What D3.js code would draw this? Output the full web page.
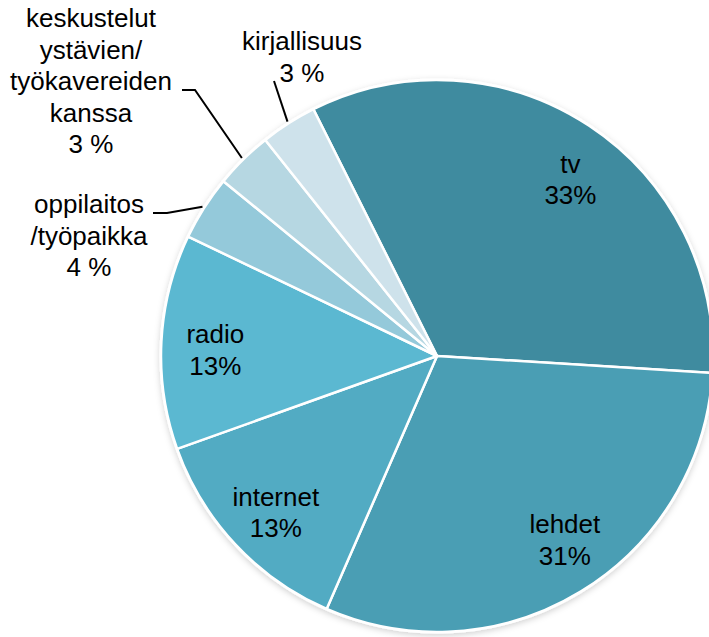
<!DOCTYPE html>
<html>
<head>
<meta charset="utf-8">
<script src="https://cdn.jsdelivr.net/npm/d3@7"></script>
<style>
  body { margin: 0; background: #fff; }
  svg text { font-family: "Liberation Sans", Arial, sans-serif; font-size: 26px; fill: #000; }
</style>
</head>
<body>
<div id="chart"></div>
<script>
// Data (clockwise from the tv slice)
// ==============================
var categories = ["tv", "lehdet", "internet", "radio", "oppilaitos/työpaikka", "keskustelut ystävien/työkavereiden kanssa", "kirjallisuus"];
var shares = [33.4, 30.6, 13.0, 12.6, 3.8, 3.4, 3.3];
var labelLines = [
  ["tv", "33%"],
  ["lehdet", "31%"],
  ["internet", "13%"],
  ["radio", "13%"],
  ["oppilaitos", "/työpaikka", "4 %"],
  ["keskustelut", "ystävien/", "työkavereiden", "kanssa", "3 %"],
  ["kirjallisuus", "3 %"]
];
var colors = ["#3f8b9f", "#4a9eb4", "#52abc3", "#5bb8d1", "#94c9da", "#b6d7e2", "#cee2eb"];

// Layout
// ==============================
var svgWidth = 709, svgHeight = 637;
var cx = 437, cy = 356, radius = 276;
var startAngle = -26.6 * Math.PI / 180;
var lineHeight = 31.5;

// small nudges for the labels inside the slices (Excel moves them a bit)
var nudge = { 0: [11, 9], 1: [12, -5], 2: [1, 5], 3: [0, 6] };

// labels that sit outside the pie: text anchor + leader line end
var outside = {
  4: { x: 89,  y: 213, end: [153, 213], elbow: [167, 213] },
  5: { x: 91,  y: 27,  end: [182, 90],  elbow: [195, 90] },
  6: { x: 302, y: 50,  end: [274, 81],  elbow: null }
};

var svg = d3.select("#chart").append("svg")
  .attr("width", svgWidth)
  .attr("height", svgHeight);

var defs = svg.append("defs");
var shadow = defs.append("filter").attr("id", "shadow")
  .attr("x", "-10%").attr("y", "-10%").attr("width", "120%").attr("height", "120%");
shadow.append("feDropShadow")
  .attr("dx", 0).attr("dy", 2).attr("stdDeviation", 3)
  .attr("flood-color", "#000").attr("flood-opacity", 0.18);

var g = svg.append("g").attr("transform", `translate(${cx}, ${cy})`);

var pie = d3.pie().sort(null)
  .startAngle(startAngle)
  .endAngle(startAngle + 2 * Math.PI);
var arcs = pie(shares);

var arc = d3.arc().innerRadius(0).outerRadius(radius);
var labelArc = d3.arc().innerRadius(222).outerRadius(222);
var edgeArc = d3.arc().innerRadius(radius + 2).outerRadius(radius + 2);

// outline / shadow disk
g.append("circle")
  .attr("r", radius + 1.5)
  .attr("fill", "#fff")
  .attr("filter", "url(#shadow)");

g.selectAll("path.slice")
  .data(arcs)
  .join("path")
  .attr("class", "slice")
  .attr("d", arc)
  .attr("fill", (d, i) => colors[i])
  .attr("stroke", "#fff")
  .attr("stroke-width", 2.5)
  .attr("stroke-linejoin", "round");

// inside labels
arcs.forEach(function(d, i) {
  if (outside[i]) return;
  var c = labelArc.centroid(d);
  var n = nudge[i] || [0, 0];
  var x = c[0] + n[0];
  var t = g.append("text")
    .attr("text-anchor", "middle")
    .attr("x", x)
    .attr("y", c[1] - 7 + n[1]);
  labelLines[i].forEach(function(line, k) {
    t.append("tspan")
      .attr("x", x)
      .attr("dy", k === 0 ? 0 : lineHeight)
      .text(line);
  });
});

// outside labels with leader lines
arcs.forEach(function(d, i) {
  var o = outside[i];
  if (!o) return;
  var p = edgeArc.centroid(d);
  var pts = [o.end];
  if (o.elbow) pts.push(o.elbow);
  pts.push([p[0] + cx, p[1] + cy]);
  svg.append("path")
    .attr("d", d3.line()(pts))
    .attr("fill", "none")
    .attr("stroke", "#000")
    .attr("stroke-width", 2);

  var t = svg.append("text")
    .attr("text-anchor", "middle")
    .attr("x", o.x)
    .attr("y", o.y);
  labelLines[i].forEach(function(line, k) {
    t.append("tspan")
      .attr("x", o.x)
      .attr("dy", k === 0 ? 0 : lineHeight)
      .text(line);
  });
});
</script>
</body>
</html>
